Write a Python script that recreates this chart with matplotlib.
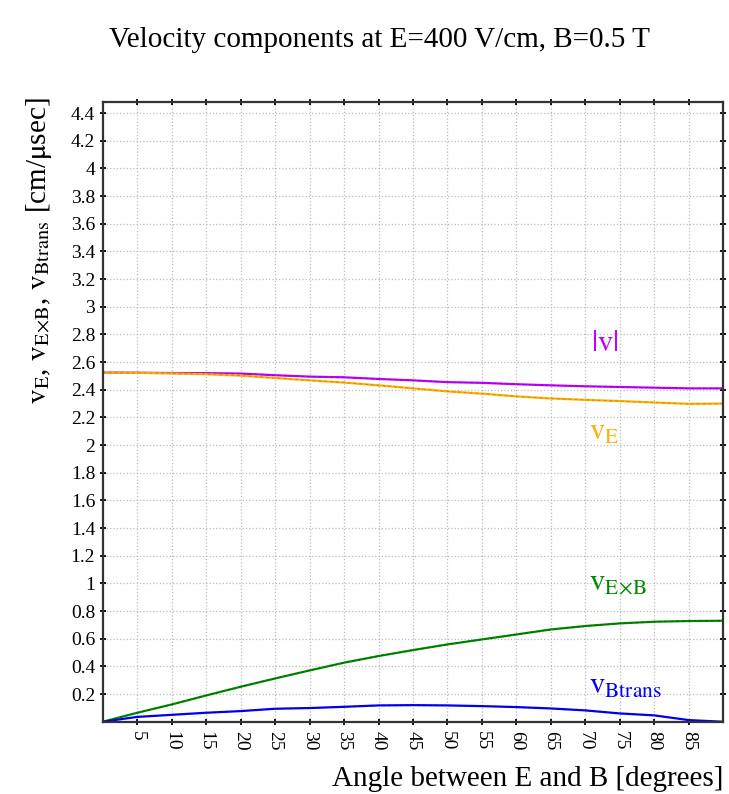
import matplotlib
matplotlib.use('Agg')
import matplotlib.pyplot as plt
import numpy as np

plt.rcParams['font.family'] = ['Liberation Serif', 'DejaVu Serif']
plt.rcParams['mathtext.fontset'] = 'stix'

angle = [0, 5, 10, 15, 20, 25, 30, 35, 40, 45, 50, 55, 60, 65, 70, 75, 80, 85, 90]
v_abs = [2.525, 2.523, 2.521, 2.52, 2.517, 2.505, 2.495, 2.49, 2.478, 2.468, 2.455, 2.45,
         2.44, 2.432, 2.425, 2.42, 2.415, 2.41, 2.41]
v_e = [2.525, 2.522, 2.518, 2.512, 2.502, 2.485, 2.468, 2.452, 2.432, 2.41, 2.388, 2.372,
       2.352, 2.337, 2.327, 2.318, 2.308, 2.298, 2.3]
v_exb = [0.0, 0.065, 0.125, 0.19, 0.253, 0.313, 0.371, 0.427, 0.475, 0.518, 0.559, 0.595,
         0.631, 0.667, 0.692, 0.711, 0.723, 0.728, 0.73]
v_btrans = [0.0, 0.035, 0.05, 0.065, 0.077, 0.094, 0.099, 0.108, 0.118, 0.12, 0.118, 0.113,
            0.106, 0.096, 0.082, 0.06, 0.046, 0.012, 0.0]

series = [
    (v_abs, '#c000ff', '#8000b0', r'$|\mathrm{v}|$', 70.8, 2.68),
    (v_e, '#ffb000', '#b07800', r'$\mathrm{v}_{\mathrm{E}}$', 70.6, 2.04),
    (v_exb, '#008a00', '#005000', r'$\mathrm{v}_{\mathrm{E\!\times\! B}}$', 70.6, 0.95),
    (v_btrans, '#0000ff', '#000090', r'$\mathrm{v}_{\mathrm{Btrans}}$', 70.6, 0.20),
]

fig = plt.figure(figsize=(7.29, 7.94), dpi=100)
ax = fig.add_axes([0.141, 0.091, 0.851, 0.7805])

for vals, col, dark, lab, lx, ly in series:
    ax.plot(angle, vals, color=col, lw=1.6)
    ax.plot(angle, vals, color=dark, lw=0.7, ls=(0, (3, 3)), alpha=0.6)
    ax.text(lx, ly, lab, color=col, fontsize=22)

yt = np.round(np.arange(0.2, 4.41, 0.2), 1)
ax.set_xlim(0, 90)
ax.set_ylim(0, 4.48)
ax.set_xticks(np.arange(5, 90, 5))
ax.set_yticks(yt)
ax.set_yticklabels(['{:g}'.format(v) for v in yt])
for lbl in ax.get_xticklabels():
    lbl.set_rotation(-90)
ax.tick_params(labelsize=14, width=1.3, length=5, top=True, right=True)
ax.tick_params(axis='x', direction='inout', pad=4)
ax.tick_params(axis='y', direction='inout', pad=3)
ax.grid(True, ls=':', color='#bbbbbb', lw=0.9)
for s in ax.spines.values():
    s.set_linewidth(1.6)
    s.set_color('#333333')

ax.set_ylabel(r'$\mathrm{v}_{\mathrm{E}}$, $\mathrm{v}_{\mathrm{E\!\times\! B}}$, $\mathrm{v}_{\mathrm{Btrans}}$ [cm/$\mathrm{\mu}$sec]',
              fontsize=21)
ax.yaxis.set_label_coords(-0.078, 0.76)
ax.set_xlabel('Angle between E and B [degrees]', fontsize=21, ha='right')
ax.xaxis.set_label_coords(1.0, -0.071)
fig.text(0.521, 0.949, 'Velocity components at E=400 V/cm, B=0.5 T', ha='center', va='center', fontsize=21)

fig.savefig('out.png', dpi=100)
